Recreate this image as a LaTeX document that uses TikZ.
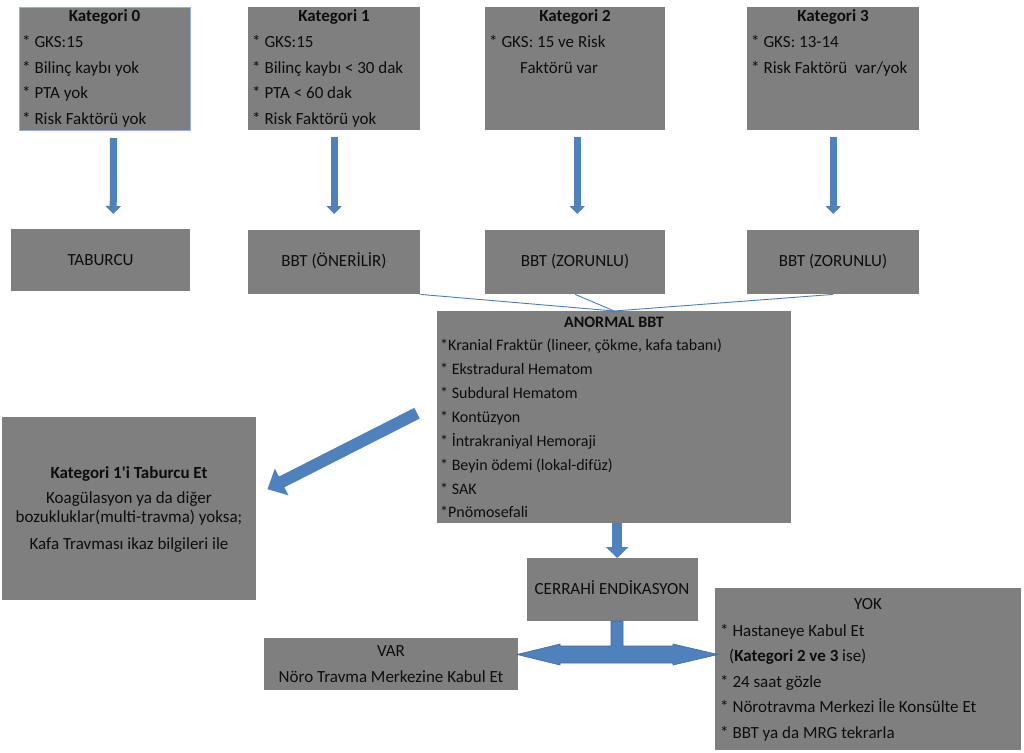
\documentclass[tikz,border=0pt]{standalone}
\usepackage{fontspec}
\setmainfont{Carlito}[Ligatures=TeXOff]
\usetikzlibrary{arrows.meta}
\definecolor{boxgray}{HTML}{7F7F7F}
\definecolor{arrfill}{HTML}{4F81BD}
\definecolor{arrdark}{HTML}{3F6CA6}
\definecolor{linec}{HTML}{4A7EBB}
\definecolor{k0border}{HTML}{95B3D7}
\definecolor{txtc}{HTML}{0D0D0D}
\newcommand{\fsA}{\fontsize{17pt}{20pt}\selectfont}
\newcommand{\fsB}{\fontsize{16pt}{19pt}\selectfont}
\tikzset{
  gbox/.style={fill=boxgray, draw=none, inner sep=0pt, anchor=north west},
  tl/.style={anchor=base west, inner sep=0pt, text=txtc, font=\fsA},
  tc/.style={anchor=base, inner sep=0pt, text=txtc, font=\fsA},
  tlb/.style={anchor=base west, inner sep=0pt, text=txtc, font=\fsB},
  tcb/.style={anchor=base, inner sep=0pt, text=txtc, font=\fsB\bfseries},
  thinline/.style={draw=linec, line width=0.9pt},
  darrow/.style={draw=arrfill, line width=7pt, -{Triangle[width=15pt,length=8pt,fill=arrfill]}},
  marrow/.style={draw=arrfill, line width=10pt, -{Triangle[width=22pt,length=11pt,fill=arrfill]}},
  diagarrow/.style={draw=arrfill, line width=12pt, -{Triangle[width=29pt,length=16pt,fill=arrfill]}},
}
\begin{document}
\begin{tikzpicture}[x=1pt,y=-1pt]
\useasboundingbox (0,0) rectangle (1024,752);
\fill[white] (0,0) rectangle (1024,752);

% boxes
\node[gbox, draw=k0border, line width=1pt, minimum width=171pt, minimum height=123pt] (k0) at (19,7) {};
\node[gbox, minimum width=172pt, minimum height=123pt] (k1) at (248,7) {};
\node[gbox, minimum width=180pt, minimum height=123pt] (k2) at (485,7) {};
\node[gbox, minimum width=172pt, minimum height=123pt] (k3) at (747,7) {};
\node[gbox, minimum width=179pt, minimum height=62pt] (tab) at (11,229) {};
\node[gbox, minimum width=172pt, minimum height=64pt] (b1) at (248,230) {};
\node[gbox, minimum width=180pt, minimum height=64pt] (b2) at (485,230) {};
\node[gbox, minimum width=172pt, minimum height=64pt] (b3) at (747,230) {};
\node[gbox, minimum width=354pt, minimum height=212pt] (an) at (437,311) {};
\node[gbox, minimum width=254pt, minimum height=183pt] (kt) at (2,417) {};
\node[gbox, minimum width=171pt, minimum height=63pt] (cer) at (527,558) {};
\node[gbox, minimum width=254pt, minimum height=52pt] (var) at (264,638) {};
\node[gbox, minimum width=306pt, minimum height=162pt] (yok) at (715,588) {};

% top box texts
\node[tc, font=\fsA\bfseries] (k0t) at (104.5,22) {Kategori 0};
\node[tl] (k0a) at (22,47.5) {* GKS:15};
\node[tl] (k0b) at (22,73) {* Bilinç kaybı yok};
\node[tl] (k0c) at (22,98.5) {* PTA yok};
\node[tl] (k0d) at (22,124) {* Risk Faktörü yok};

\node[tc, font=\fsA\bfseries] (k1t) at (334,22) {Kategori 1};
\node[tl] (k1a) at (252,47.5) {* GKS:15};
\node[tl] (k1b) at (252,73) {* Bilinç kaybı < 30 dak};
\node[tl] (k1c) at (252,98.5) {* PTA < 60 dak};
\node[tl] (k1d) at (252,124) {* Risk Faktörü yok};

\node[tc, font=\fsA\bfseries] (k2t) at (575,22) {Kategori 2};
\node[tl] (k2a) at (489,47.5) {* GKS: 15 ve Risk};
\node[tl] (k2b) at (520,73) {Faktörü var};

\node[tc, font=\fsA\bfseries] (k3t) at (833,22) {Kategori 3};
\node[tl] (k3a) at (751,47.5) {* GKS: 13-14};
\node[tl] (k3b) at (751,73) {* Risk Faktörü~ var/yok};

% second row texts
\node[tc] (tabt) at (100.5,265) {TABURCU};
\node[tc] (b1t) at (334,266) {BBT (ÖNERİLİR)};
\node[tc] (b2t) at (575,266) {BBT (ZORUNLU)};
\node[tc] (b3t) at (833,266) {BBT (ZORUNLU)};

% anormal BBT
\node[tcb] (ant) at (614,327) {ANORMAL BBT};
\node[tlb] (an1) at (440,350) {*Kranial Fraktür (lineer, çökme, kafa tabanı)};
\node[tlb] (an2) at (440,374) {* Ekstradural Hematom};
\node[tlb] (an3) at (440,398) {* Subdural Hematom};
\node[tlb] (an4) at (440,422) {* Kontüzyon};
\node[tlb] (an5) at (440,446) {* İntrakraniyal Hemoraji};
\node[tlb] (an6) at (440,470) {* Beyin ödemi (lokal-difüz)};
\node[tlb] (an7) at (440,494) {* SAK};
\node[tlb] (an8) at (440,517) {*Pnömosefali};

% left box
\node[tc, font=\fsA\bfseries] (ktt) at (129,478) {Kategori 1'i Taburcu Et};
\node[tc] (kt1) at (129,503) {Koagülasyon ya da diğer};
\node[tc] (kt2) at (129,522) {bozukluklar(multi-travma) yoksa;};
\node[tc] (kt3) at (129,549) {Kafa Travması ikaz bilgileri ile};

% cerrahi, var, yok
\node[tc] (cert) at (612,594) {CERRAHİ ENDİKASYON};
\node[tc] (vart) at (391,656) {VAR};
\node[tc] (var1) at (391,682) {Nöro Travma Merkezine Kabul Et};
\node[tc] (yokt) at (868,609) {YOK};
\node[tl] (yok1) at (720,636) {* Hastaneye Kabul Et};
\node[tl] (yok2) at (729,661) {(\textbf{Kategori 2 ve 3} ise)};
\node[tl] (yok3) at (720,687) {* 24 saat gözle};
\node[tl] (yok4) at (720,712) {* Nörotravma Merkezi İle Konsülte Et};
\node[tl] (yok5) at (720,738) {* BBT ya da MRG tekrarla};

% down arrows
\draw[darrow] ([xshift=8.5pt,yshift=-7pt]k0.south) -- ([xshift=12.5pt,yshift=15pt]tab.north);
\draw[darrow] ([yshift=-7pt]k1.south) -- ([yshift=16pt]b1.north);
\draw[darrow] ([xshift=2pt,yshift=-7pt]k2.south) -- ([xshift=2pt,yshift=16pt]b2.north);
\draw[darrow] ([yshift=-7pt]k3.south) -- ([yshift=16pt]b3.north);

% thin converging lines
\draw[thinline] (b1.south east) -- (an.north);
\draw[thinline] (b2.south) -- (an.north);
\draw[thinline] (b3.south) -- (an.north);

% diagonal arrow
\draw[diagarrow] ([xshift=-20pt,yshift=4pt]an.west) -- ([xshift=11pt,yshift=19.5pt]kt.east);

% anormal -> cerrahi
\draw[marrow] ([xshift=3pt]an.south) -- ([xshift=4.5pt]cer.north);

% double arrow from cerrahi
\filldraw[fill=arrfill, draw=arrdark, line width=0.6pt]
  (611,621) -- (623,621) -- (623,646) -- (673,646) -- (673,644) -- (718,654.5)
  -- (673,665) -- (673,663) -- (560,663) -- (560,665) -- (517,654.5)
  -- (560,644) -- (560,646) -- (611,646) -- cycle;
\end{tikzpicture}
\end{document}
